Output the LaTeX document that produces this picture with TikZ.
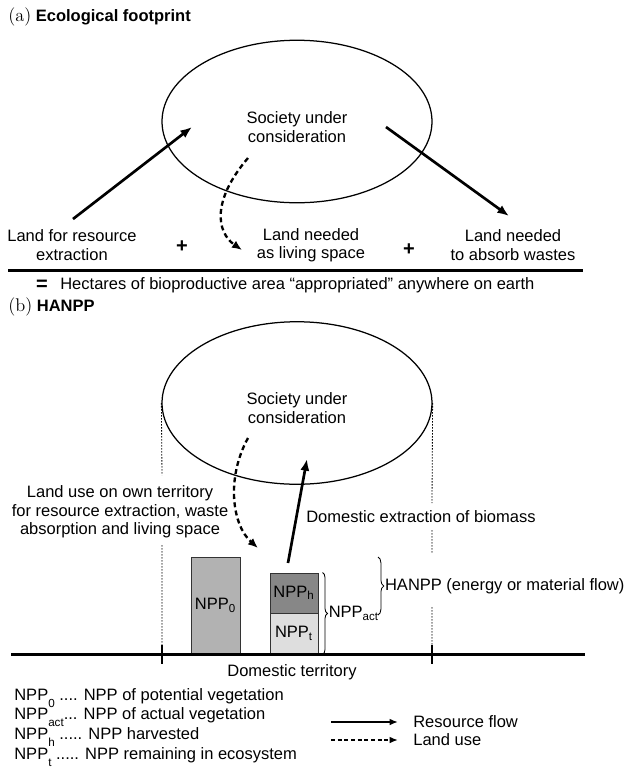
\documentclass[tikz,border=0pt]{standalone}
\usepackage{fontspec}
\setsansfont{Liberation Sans}
\usetikzlibrary{arrows.meta,shapes.geometric,decorations.pathreplacing}

\newcommand{\lsub}[1]{\raisebox{-0.8ex}{\fontsize{7}{7}\selectfont #1}}
\newcommand{\panel}[1]{{\rmfamily\fontsize{11}{11}\selectfont (#1)}}

\begin{document}
\begin{tikzpicture}[x=0.6pt,y=-0.6pt,
  font=\sffamily\fontsize{9.9}{11.1}\selectfont,
  society/.style={draw,line width=0.75pt,ellipse,minimum width=162pt,minimum height=97.5pt,inner sep=0pt},
  flow/.style={line width=1.6pt,-{Latex[length=7pt,width=5.5pt]}},
  landuse/.style={line width=1.4pt,dash pattern=on 3pt off 2pt,-{Latex[length=6pt,width=5pt]}},
  ground/.style={line width=1.8pt},
  border/.style={line width=0.5pt,dash pattern=on 0.9pt off 0.9pt},
  npp/.style={draw=black!80,line width=0.6pt,inner sep=0pt},
  txt/.style={align=center,inner sep=0pt}]
\useasboundingbox (0,0) rectangle (634,771);

% (a) Ecological footprint
\node[anchor=west,inner sep=0pt] (titlea) at (8,17) {\panel{a} \textbf{Ecological footprint}};
\node[society] (ella) at (297,121.5) {};
\node[txt] (soca) at (297,127) {Society under\\consideration};

\node[txt] (resa) at (72,245) {Land for resource\\extraction};
\node[txt] (liva) at (311,245) {Land needed\\as living space};
\node[txt] (wastea) at (513,245) {Land needed\\to absorb wastes};
\node[txt,font=\sffamily\bfseries\large] (plusa) at (182,247) {+};
\node[txt,font=\sffamily\bfseries\large] (plusb) at (409,250) {+};

\coordinate (resfrom) at (73,219);
\coordinate (resto) at (192,127);
\coordinate (wastefrom) at (386,127);
\coordinate (wasteto) at (509,216);
\coordinate (livfrom) at (248,158);
\coordinate (livto) at (242,250);

\draw[flow] (resfrom) -- (resto);
\draw[flow] (wastefrom) -- (wasteto);
\draw[landuse] (livfrom) .. controls (212,200) and (216,232) .. (livto);

\coordinate (sumleft) at (8,270);
\coordinate (sumright) at (583,270);
\draw[ground] (sumleft) -- (sumright);
\node[txt,font=\sffamily\bfseries\large] (eqa) at (42,285) {=};
\node[anchor=west,inner sep=0pt] (hecta) at (60,285) {Hectares of bioproductive area “appropriated” anywhere on earth};

% (b) HANPP
\node[anchor=west,inner sep=0pt] (titleb) at (8,307) {\panel{b} \textbf{HANPP}};
\node[society] (ellb) at (297,403) {};
\node[txt] (socb) at (297,408) {Society under\\consideration};

\node[txt] (landuseb) at (120,512) {Land use on own territory\\for resource extraction, waste\\absorption and living space};
\node[anchor=west,inner sep=0pt] (domext) at (306,517) {Domestic extraction of biomass};

% NPP bars
\node[npp,fill=black!30,minimum width=29.4pt,minimum height=58.2pt] (npp0) at (215.5,605.5) {NPP\textsubscript{0}};
\node[npp,fill=black!47,minimum width=28.8pt,minimum height=24pt] (npph) at (294,593) {NPP\textsubscript{h}};
\node[npp,fill=black!13,minimum width=28.8pt,minimum height=24.6pt] (nppt) at (294,633.5) {NPP\textsubscript{t}};

\draw[line width=0.5pt,decorate,decoration={brace,amplitude=3pt}]
  ([xshift=2.4pt]npph.north east) -- ([xshift=2.4pt]nppt.south east)
  node[midway,anchor=west,xshift=3.5pt,inner sep=0pt] (nppact) {NPP\textsubscript{act}};
\coordinate (hanpptop) at (378,557);
\coordinate (hanppbot) at (378,615);
\draw[line width=0.5pt,decorate,decoration={brace,amplitude=3.5pt}]
  (hanpptop) -- (hanppbot)
  node[midway,anchor=west,xshift=4pt,inner sep=0pt] (hanpp) {HANPP (energy or material flow)};

\coordinate (extfrom) at (288,563);
\coordinate (extto) at (307,459);
\coordinate (lufrom) at (248,438);
\coordinate (luto) at (258,548);
\draw[flow] (extfrom) -- (extto);
\draw[landuse] (lufrom) .. controls (226,478) and (232,525) .. (luto);

% territory
\coordinate (groundleft) at (11,654);
\coordinate (groundright) at (585,654);
\draw[ground] (groundleft) -- (groundright);
\draw[border] (ellb.west) -- (162,475) (162,545) -- (162,648);
\draw[border] (ellb.east) -- (432,503) (432,530) -- (432,553) (432,607) -- (432,648);
\draw[line width=0.8pt] (162,645) -- (162,664) (432,645) -- (432,664);
\node[txt] (domterr) at (292,672) {Domestic territory};

% legend
\node[anchor=west,inner sep=0pt] (leg0) at (14,698) {NPP\lsub{0} .... NPP of potential vegetation};
\node[anchor=west,inner sep=0pt] (legact) at (14,717) {NPP\lsub{act}... NPP of actual vegetation};
\node[anchor=west,inner sep=0pt] (legh) at (14,737) {NPP\lsub{h} ..... NPP harvested};
\node[anchor=west,inner sep=0pt] (legt) at (14,757) {NPP\lsub{t} ..... NPP remaining in ecosystem};

\node[anchor=west,inner sep=0pt] (legflow) at (413,722) {Resource flow};
\node[anchor=west,inner sep=0pt] (leguse) at (413,740) {Land use};
\coordinate (flowkey) at (331,722);
\coordinate (usekey) at (331,740);
\draw[line width=1.2pt,-{Latex[length=5pt,width=4pt]}] (flowkey) -- ([xshift=-9pt]legflow.west);
\draw[line width=1.2pt,dash pattern=on 2.4pt off 1.6pt,-{Latex[length=5pt,width=4pt]}] (usekey) -- ([xshift=-9pt]leguse.west);

\end{tikzpicture}
\end{document}
